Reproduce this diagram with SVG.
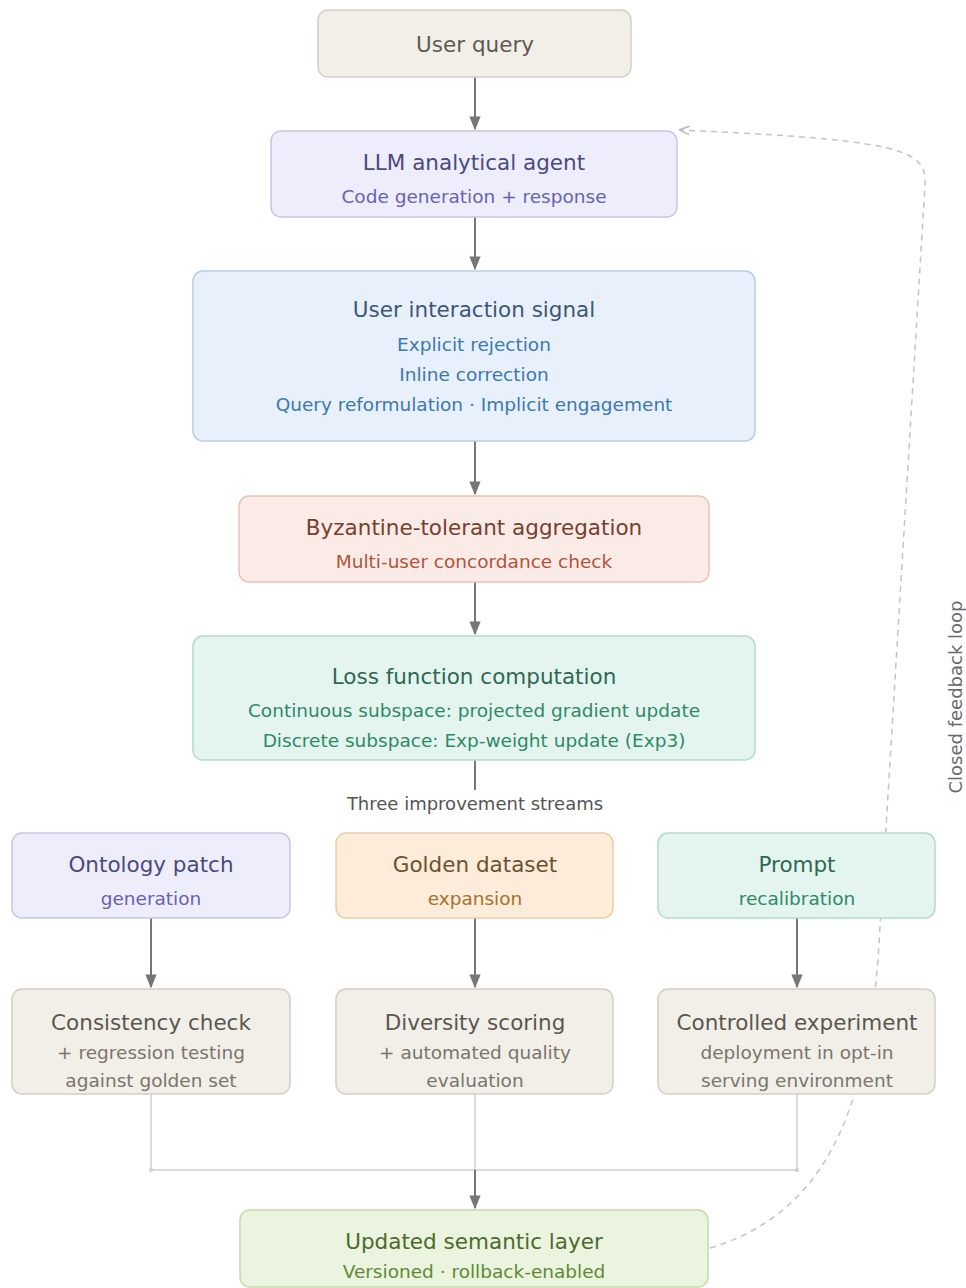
<svg xmlns="http://www.w3.org/2000/svg" width="966" height="1288" viewBox="0 0 966 1288">
<style>
text{font-family:"DejaVu Sans","Liberation Sans",sans-serif;text-anchor:middle}
.t{font-size:21.5px}
.s{font-size:18.5px}
.box{stroke-width:1.5}
.arr{stroke:#767676;stroke-width:2;fill:none}
.thin{stroke:#cfcfcf;stroke-width:1.5;fill:none}
.beige{fill:#f2efe9;stroke:#d4d0c7}
.lav{fill:#eeedfb;stroke:#c9c6e3}
.blue{fill:#e7f0fb;stroke:#b9cde2}
.rose{fill:#fbebe7;stroke:#e6c3b9}
.mint{fill:#e4f5ef;stroke:#b3dbcb}
.peach{fill:#fcecd9;stroke:#e8cda9}
.green{fill:#ebf4de;stroke:#c6daab}
</style>
<defs>
<marker id="ah" viewBox="0 0 10 10" refX="9" refY="5" markerWidth="7" markerHeight="7" orient="auto">
<path d="M0,1 L10,5 L0,9 Z" fill="#767676"/>
</marker>
<marker id="ahl" viewBox="0 0 10 10" refX="9" refY="5" markerWidth="7" markerHeight="7" orient="auto">
<path d="M0,1 L10,5 L0,9" fill="none" stroke="#bbbbbb" stroke-width="1.5"/>
</marker>
</defs>
<g id="connectors">
<line class="arr" x1="475" y1="77" x2="475" y2="129" marker-end="url(#ah)"/>
<line class="arr" x1="475" y1="217" x2="475" y2="269" marker-end="url(#ah)"/>
<line class="arr" x1="475" y1="441" x2="475" y2="494" marker-end="url(#ah)"/>
<line class="arr" x1="475" y1="582" x2="475" y2="634" marker-end="url(#ah)"/>
<line class="arr" x1="475" y1="760" x2="475" y2="790"/>
<line class="arr" x1="151" y1="918" x2="151" y2="987" marker-end="url(#ah)"/>
<line class="arr" x1="475" y1="918" x2="475" y2="987" marker-end="url(#ah)"/>
<line class="arr" x1="797" y1="918" x2="797" y2="987" marker-end="url(#ah)"/>
<polyline class="thin" points="151,1094 151,1170 797,1170 797,1094"/>
<line class="thin" x1="475" y1="1094" x2="475" y2="1170"/>
<circle cx="151" cy="1170" r="2" fill="#cfcfcf"/>
<circle cx="797" cy="1170" r="2" fill="#cfcfcf"/>
<line class="arr" x1="475" y1="1170" x2="475" y2="1208" marker-end="url(#ah)"/>
<path d="M710,1248 C820,1215 865,1120 878,960 L925,185 C927,150 905,140 680,130" fill="none" stroke="#c4c4c4" stroke-width="1.5" stroke-dasharray="6,5" marker-end="url(#ahl)"/>
<text x="955" y="697" transform="rotate(-90 955 697)" style="font-size:18px;fill:#6a6a6a" dominant-baseline="central">Closed feedback loop</text>
<text x="475" y="810" style="font-size:18px;fill:#555555">Three improvement streams</text>
</g>
<g id="user-query">
<rect class="box beige" x="318" y="10" width="313" height="67" rx="10"/>
<text class="t" x="475" y="52" fill="#5e5a53">User query</text>
</g>
<g id="llm-agent">
<rect class="box lav" x="271" y="131" width="406" height="86" rx="10"/>
<text class="t" x="474" y="170" fill="#4a4a7e">LLM analytical agent</text>
<text class="s" x="474" y="203" fill="#6763b0">Code generation + response</text>
</g>
<g id="user-interaction">
<rect class="box blue" x="193" y="271" width="562" height="170" rx="10"/>
<text class="t" x="474" y="317" fill="#3d5876">User interaction signal</text>
<text class="s" x="474" y="351" fill="#3c78b0">Explicit rejection</text>
<text class="s" x="474" y="381" fill="#3c78b0">Inline correction</text>
<text class="s" x="474" y="411" fill="#3c78b0">Query reformulation · Implicit engagement</text>
</g>
<g id="byzantine">
<rect class="box rose" x="239" y="496" width="470" height="86" rx="10"/>
<text class="t" x="474" y="535" fill="#77402f">Byzantine-tolerant aggregation</text>
<text class="s" x="474" y="568" fill="#b1533c">Multi-user concordance check</text>
</g>
<g id="loss-function">
<rect class="box mint" x="193" y="636" width="562" height="124" rx="10"/>
<text class="t" x="474" y="684" fill="#2f6853">Loss function computation</text>
<text class="s" x="474" y="717" fill="#2e8a66">Continuous subspace: projected gradient update</text>
<text class="s" x="474" y="747" fill="#2e8a66">Discrete subspace: Exp-weight update (Exp3)</text>
</g>
<g id="ontology-patch">
<rect class="box lav" x="12" y="833" width="278" height="85" rx="10"/>
<text class="t" x="151" y="872" fill="#4a4a7e">Ontology patch</text>
<text class="s" x="151" y="905" fill="#6763b0">generation</text>
</g>
<g id="golden-dataset">
<rect class="box peach" x="336" y="833" width="277" height="85" rx="10"/>
<text class="t" x="475" y="872" fill="#6e5230">Golden dataset</text>
<text class="s" x="475" y="905" fill="#a8702e">expansion</text>
</g>
<g id="prompt">
<rect class="box mint" x="658" y="833" width="277" height="85" rx="10"/>
<text class="t" x="797" y="872" fill="#2f6853">Prompt</text>
<text class="s" x="797" y="905" fill="#2e8a66">recalibration</text>
</g>
<g id="consistency-check">
<rect class="box beige" x="12" y="989" width="278" height="105" rx="10"/>
<text class="t" x="151" y="1030" fill="#5a5650">Consistency check</text>
<text class="s" x="151" y="1059" fill="#7a756d">+ regression testing</text>
<text class="s" x="151" y="1087" fill="#7a756d">against golden set</text>
</g>
<g id="diversity-scoring">
<rect class="box beige" x="336" y="989" width="277" height="105" rx="10"/>
<text class="t" x="475" y="1030" fill="#5a5650">Diversity scoring</text>
<text class="s" x="475" y="1059" fill="#7a756d">+ automated quality</text>
<text class="s" x="475" y="1087" fill="#7a756d">evaluation</text>
</g>
<g id="controlled-experiment">
<rect class="box beige" x="658" y="989" width="277" height="105" rx="10"/>
<text class="t" x="797" y="1030" fill="#5a5650">Controlled experiment</text>
<text class="s" x="797" y="1059" fill="#7a756d">deployment in opt-in</text>
<text class="s" x="797" y="1087" fill="#7a756d">serving environment</text>
</g>
<g id="updated-semantic-layer">
<rect class="box green" x="240" y="1210" width="468" height="77" rx="10"/>
<text class="t" x="474" y="1249" fill="#4b6a2e">Updated semantic layer</text>
<text class="s" x="474" y="1278" fill="#5e8a34">Versioned · rollback-enabled</text>
</g>
</svg>
